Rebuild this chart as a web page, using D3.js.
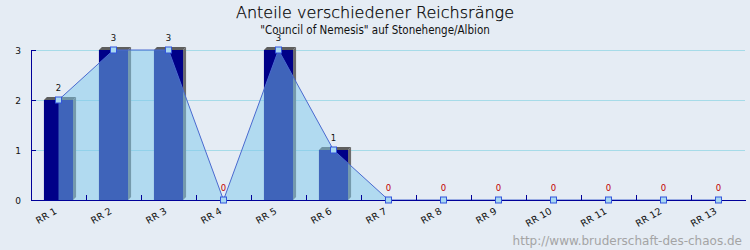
<!DOCTYPE html>
<html>
<head>
<meta charset="utf-8">
<script src="https://cdn.jsdelivr.net/npm/d3@7"></script>
<style>
  body { margin: 0; background: #e5ecf4; }
  svg { display: block; font-family: "DejaVu Sans", sans-serif; }
</style>
</head>
<body>
<div id="chart"></div>
<script>
var categories = ["RR 1", "RR 2", "RR 3", "RR 4", "RR 5", "RR 6", "RR 7",
                  "RR 8", "RR 9", "RR 10", "RR 11", "RR 12", "RR 13"];
var values = [2, 3, 3, 0, 3, 1, 0, 0, 0, 0, 0, 0, 0];
var yTicks = [0, 1, 2, 3];

var title = "Anteile verschiedener Reichsränge";
var subtitle = "\"Council of Nemesis\" auf Stonehenge/Albion";
var watermark = "http://www.bruderschaft-des-chaos.de";

var width = 750, height = 250;
var plotLeft = 31, plotRight = 746, plotTop = 50, plotBottom = 200;
var depth = 3;

var svg = d3.select('#chart').append('svg')
    .attr('width', width)
    .attr('height', height);

svg.append('rect')
    .attr('width', width).attr('height', height)
    .style('fill', '#e5ecf4');

var x = d3.scaleBand().domain(categories).range([plotLeft, plotRight]);
var y = d3.scaleLinear().domain([0, 3]).range([plotBottom, plotTop]);
var barW = x.bandwidth() * 0.53;

function cx(d, i) { return x(categories[i]) + x.bandwidth() / 2; }

// gridlines
svg.selectAll('line.grid').data(yTicks.slice(1)).enter().append('line')
    .attr('class', 'grid')
    .attr('x1', plotLeft).attr('x2', plotRight - 1)
    .attr('y1', function (d) { return y(d) + 0.5; })
    .attr('y2', function (d) { return y(d) + 0.5; })
    .style('stroke', '#a6dbe8')
    .style('stroke-width', 1);

// 3d bars
var bars = svg.append('g');
values.forEach(function (v, i) {
    if (v <= 0) return;
    var x0 = cx(v, i) - barW / 2, x1 = x0 + barW, yt = y(v);
    bars.append('path')
        .attr('d', 'M' + x0 + ',' + yt + 'L' + (x0 + depth) + ',' + (yt - depth) +
              'L' + (x1 + depth) + ',' + (yt - depth) + 'L' + x1 + ',' + yt + 'Z')
        .style('fill', '#5e5e5e');
    bars.append('path')
        .attr('d', 'M' + x1 + ',' + yt + 'L' + (x1 + depth) + ',' + (yt - depth) +
              'L' + (x1 + depth) + ',' + (plotBottom - depth) + 'L' + x1 + ',' + plotBottom + 'Z')
        .style('fill', '#6c6c6c');
    bars.append('rect')
        .attr('x', x0).attr('y', yt)
        .attr('width', barW).attr('height', plotBottom - yt)
        .style('fill', '#000088');
});

// area + line
var area = d3.area()
    .x(function (d, i) { return cx(d, i); })
    .y0(plotBottom)
    .y1(function (d) { return y(d); });
var line = d3.line()
    .x(function (d, i) { return cx(d, i); })
    .y(function (d) { return y(d); });

svg.append('path').datum(values)
    .attr('d', area)
    .style('fill', 'rgb(125,200,235)')
    .style('fill-opacity', 0.5);
svg.append('path').datum(values)
    .attr('d', line)
    .style('fill', 'none')
    .style('stroke', '#4a6ad0')
    .style('stroke-width', 1);

// axes
svg.append('line')
    .attr('x1', plotLeft).attr('x2', plotRight)
    .attr('y1', plotBottom + 0.5).attr('y2', plotBottom + 0.5)
    .style('stroke', '#000099');
svg.append('line')
    .attr('x1', plotLeft + 0.5).attr('x2', plotLeft + 0.5)
    .attr('y1', plotTop).attr('y2', plotBottom + 1)
    .style('stroke', '#000099');
svg.selectAll('line.xtick').data(categories.slice(1)).enter().append('line')
    .attr('class', 'xtick')
    .attr('x1', function (d) { return Math.round(x(d)) + 0.5; })
    .attr('x2', function (d) { return Math.round(x(d)) + 0.5; })
    .attr('y1', plotBottom - 5).attr('y2', plotBottom)
    .style('stroke', '#000099');
svg.selectAll('line.ytick').data(yTicks).enter().append('line')
    .attr('class', 'ytick')
    .attr('x1', plotLeft).attr('x2', plotLeft + 5)
    .attr('y1', function (d) { return y(d) + 0.5; })
    .attr('y2', function (d) { return y(d) + 0.5; })
    .style('stroke', '#000099');
svg.selectAll('text.ylab').data(yTicks).enter().append('text')
    .attr('class', 'ylab')
    .attr('x', 21).attr('y', function (d) { return y(d) + 3.5; })
    .attr('text-anchor', 'end')
    .style('font-size', '9px')
    .style('fill', '#111')
    .text(function (d) { return d; });

svg.selectAll('text.xlab').data(categories).enter().append('text')
    .attr('class', 'xlab')
    .attr('transform', function (d) {
        return 'translate(' + (x(d) + x.bandwidth() / 2 - 1) + ',' + (plotBottom + 13) + ') rotate(-30)';
    })
    .attr('text-anchor', 'end')
    .style('font-size', '9.5px')
    .style('fill', '#111')
    .text(function (d) { return d; });

// markers + value labels
svg.selectAll('rect.marker').data(values).enter().append('rect')
    .attr('class', 'marker')
    .attr('x', function (d, i) { return cx(d, i) - 3; })
    .attr('y', function (d) { return y(d) - 3; })
    .attr('width', 6).attr('height', 6)
    .style('fill', '#a8d8f0')
    .style('stroke', '#3355dd')
    .style('stroke-width', 1);
svg.selectAll('text.val').data(values).enter().append('text')
    .attr('class', 'val')
    .attr('x', function (d, i) { return cx(d, i); })
    .attr('y', function (d) { return y(d) - 9; })
    .attr('text-anchor', 'middle')
    .style('font-size', '8.5px')
    .style('fill', function (d) { return d == 0 ? '#c00000' : '#111'; })
    .text(function (d) { return d; });

// titles
svg.append('text')
    .attr('x', 375).attr('y', 18)
    .attr('text-anchor', 'middle')
    .style('font-size', '16px')
    .style('font-weight', 200)
    .style('fill', '#000')
    .style('stroke', '#000')
    .style('stroke-width', 0.25)
    .text(title);
svg.append('text')
    .attr('x', 375).attr('y', 34)
    .attr('text-anchor', 'middle')
    .style('font-family', '"DejaVu Sans Condensed", "DejaVu Sans", sans-serif')
    .style('font-size', '11.5px')
    .style('fill', '#111')
    .text(subtitle);
svg.append('text')
    .attr('x', 742).attr('y', 245)
    .attr('text-anchor', 'end')
    .style('font-size', '12px')
    .style('fill', '#a4a4a4')
    .text(watermark);
</script>
</body>
</html>
